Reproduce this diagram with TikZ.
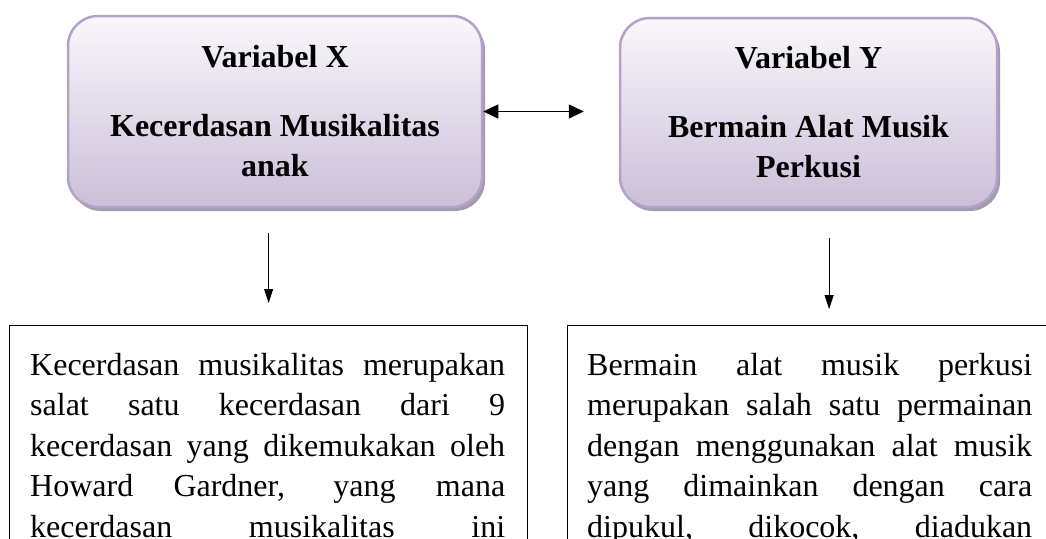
\documentclass[tikz,border=0pt]{standalone}
\usepackage{fontspec}
\setmainfont{Liberation Serif}
\usetikzlibrary{shadows,arrows.meta,calc}
\definecolor{boxtop}{HTML}{F9F7FB}
\definecolor{boxbottom}{HTML}{CBBFD9}
\definecolor{boxline}{HTML}{B3A2C7}
\definecolor{boxshadow}{HTML}{A39BAE}
\tikzset{
  varbox/.style={rounded corners=30pt, draw=boxline, line width=2.5pt,
    top color=boxtop, bottom color=boxbottom,
    drop shadow={shadow xshift=3pt, shadow yshift=-4pt, fill=boxshadow, opacity=1},
    align=center, inner sep=0pt, font=\fontsize{32}{40}\selectfont\bfseries},
  descbox/.style={draw, line width=1.2pt, anchor=north west},
  desctext/.style={anchor=north west, inner sep=0pt, align=justify,
    font=\fontsize{32}{40.5}\selectfont},
  link/.style={-{Triangle[length=14pt,width=9pt]}, line width=1pt},
  dlink/.style={{Triangle[length=15pt,width=14pt]}-{Triangle[length=15pt,width=14pt]}, line width=1.5pt}
}
\begin{document}
\begin{tikzpicture}[x=1pt,y=-1pt]
\useasboundingbox (0,0) rectangle (1046,538);
\clip (0,0) rectangle (1046,538);

% Variable boxes
\node[varbox, minimum width=414pt, minimum height=191pt] (boxX) at (275,111.5)
  {Variabel X\\[29pt] Kecerdasan Musikalitas\\ anak};
\node[varbox, minimum width=377pt, minimum height=189pt] (boxY) at (808.5,112.5)
  {Variabel Y\\[29pt] Bermain Alat Musik\\ Perkusi};

% Description boxes
\node[descbox, minimum width=518pt, minimum height=400pt] (descX) at (9,325) {};
\node[descbox, minimum width=523pt, minimum height=400pt] (descY) at (567,325) {};

\node[desctext, text width=475pt] (textX) at (30,353) {Kecerdasan musikalitas merupakan\linebreak
salat satu kecerdasan dari 9\linebreak
kecerdasan yang dikemukakan oleh\linebreak
Howard Gardner, yang mana\linebreak
kecerdasan musikalitas ini\linebreak};
\node[desctext, text width=445pt] (textY) at (587,353) {Bermain alat musik perkusi\linebreak
merupakan salah satu permainan\linebreak
dengan menggunakan alat musik\linebreak
yang dimainkan dengan cara\linebreak
dipukul, dikocok, diadukan\linebreak};

% Arrows
\draw[dlink] (boxX.east) -- ([xshift=-35pt]boxY.west |- boxX.east);
\draw[link] ($(boxX.south -| descX.north)+(0,25)$) -- ([yshift=22pt]descX.north);
\draw[link] ($(boxY.south -| descY.north)+(0,30)$) -- ([yshift=16pt]descY.north);

\end{tikzpicture}
\end{document}
